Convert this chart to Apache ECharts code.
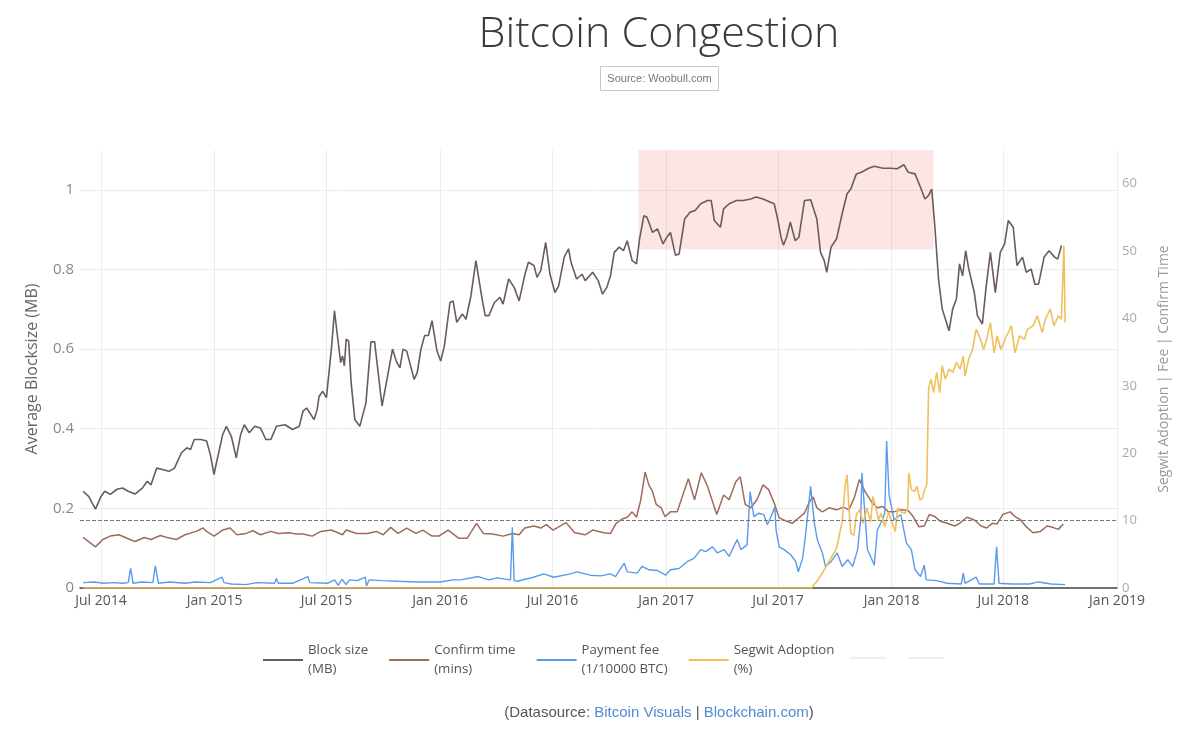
<!DOCTYPE html>
<html><head><meta charset="utf-8">
<script src="https://cdn.jsdelivr.net/npm/echarts@6/dist/echarts.min.js"></script>
<style>html,body{margin:0;padding:0;background:#fff}#chart{width:1200px;height:737px}</style>
</head><body><div id="chart"></div>
<script>
// Smoothed block size (MB), left axis
const blockSize = [['2014-06-02',0.243],['2014-06-11',0.230],['2014-06-22',0.198],['2014-07-01',0.230],['2014-07-07',0.243],['2014-07-16',0.235],['2014-07-27',0.248],['2014-08-05',0.251],['2014-08-14',0.243],['2014-08-25',0.236],['2014-09-06',0.251],['2014-09-14',0.268],['2014-09-20',0.259],['2014-09-29',0.301],['2014-10-10',0.297],['2014-10-19',0.293],['2014-10-28',0.301],['2014-11-08',0.339],['2014-11-17',0.352],['2014-11-23',0.348],['2014-11-29',0.373],['2014-12-10',0.373],['2014-12-19',0.369],['2014-12-25',0.335],['2014-12-31',0.285],['2015-01-05',0.322],['2015-01-14',0.385],['2015-01-20',0.406],['2015-01-28',0.381],['2015-02-05',0.327],['2015-02-12',0.385],['2015-02-18',0.410],['2015-02-26',0.390],['2015-03-07',0.406],['2015-03-16',0.402],['2015-03-25',0.373],['2015-04-02',0.373],['2015-04-11',0.406],['2015-04-25',0.410],['2015-05-07',0.398],['2015-05-18',0.406],['2015-05-24',0.444],['2015-05-30',0.452],['2015-06-11',0.423],['2015-06-16',0.448],['2015-06-19',0.481],['2015-06-25',0.494],['2015-07-01',0.478],['2015-07-09',0.600],['2015-07-14',0.696],['2015-07-24',0.566],['2015-07-27',0.583],['2015-07-30',0.558],['2015-08-02',0.625],['2015-08-06',0.620],['2015-08-10',0.515],['2015-08-16',0.423],['2015-08-24',0.406],['2015-09-03',0.465],['2015-09-11',0.618],['2015-09-17',0.618],['2015-09-29',0.457],['2015-10-07',0.524],['2015-10-16',0.600],['2015-10-22',0.570],['2015-10-28',0.553],['2015-11-02',0.600],['2015-11-08',0.595],['2015-11-20',0.524],['2015-11-25',0.541],['2015-12-01',0.600],['2015-12-07',0.634],['2015-12-13',0.634],['2015-12-19',0.671],['2015-12-27',0.595],['2016-01-02',0.570],['2016-01-08',0.608],['2016-01-17',0.717],['2016-01-22',0.721],['2016-01-28',0.667],['2016-02-06',0.688],['2016-02-12',0.675],['2016-02-20',0.734],['2016-02-28',0.822],['2016-03-09',0.726],['2016-03-14',0.684],['2016-03-20',0.684],['2016-03-29',0.717],['2016-04-07',0.730],['2016-04-12',0.713],['2016-04-21',0.776],['2016-04-30',0.755],['2016-05-08',0.721],['2016-05-17',0.785],['2016-05-23',0.818],['2016-06-01',0.810],['2016-06-06',0.780],['2016-06-12',0.797],['2016-06-20',0.868],['2016-06-27',0.788],['2016-07-05',0.742],['2016-07-11',0.759],['2016-07-20',0.831],['2016-07-27',0.852],['2016-07-31',0.818],['2016-08-09',0.776],['2016-08-18',0.788],['2016-08-23',0.772],['2016-09-04',0.793],['2016-09-13',0.772],['2016-09-20',0.738],['2016-09-27',0.755],['2016-10-03',0.785],['2016-10-09',0.843],['2016-10-17',0.856],['2016-10-24',0.847],['2016-10-30',0.872],['2016-11-07',0.822],['2016-11-14',0.814],['2016-11-19',0.877],['2016-11-26',0.935],['2016-12-01',0.931],['2016-12-10',0.893],['2016-12-18',0.902],['2016-12-27',0.864],['2017-01-02',0.881],['2017-01-08',0.893],['2017-01-16',0.836],['2017-01-22',0.839],['2017-01-31',0.927],['2017-02-09',0.944],['2017-02-17',0.948],['2017-02-26',0.965],['2017-03-09',0.973],['2017-03-15',0.973],['2017-03-20',0.923],['2017-03-30',0.906],['2017-04-04',0.952],['2017-04-13',0.965],['2017-04-25',0.973],['2017-05-06',0.973],['2017-05-18',0.977],['2017-05-27',0.982],['2017-06-07',0.977],['2017-06-19',0.969],['2017-06-25',0.965],['2017-06-30',0.931],['2017-07-06',0.881],['2017-07-10',0.861],['2017-07-15',0.881],['2017-07-21',0.919],['2017-07-29',0.872],['2017-08-04',0.881],['2017-08-13',0.973],['2017-08-23',0.975],['2017-09-02',0.927],['2017-09-08',0.843],['2017-09-14',0.822],['2017-09-18',0.793],['2017-09-25',0.856],['2017-10-04',0.877],['2017-10-13',0.940],['2017-10-21',0.990],['2017-10-27',1.002],['2017-11-05',1.040],['2017-11-13',1.044],['2017-11-25',1.054],['2017-12-04',1.059],['2017-12-18',1.054],['2017-12-30',1.054],['2018-01-10',1.053],['2018-01-21',1.063],['2018-01-28',1.044],['2018-02-08',1.040],['2018-02-17',1.006],['2018-02-24',0.977],['2018-03-02',0.986],['2018-03-07',1.002],['2018-03-12',0.910],['2018-03-18',0.776],['2018-03-24',0.701],['2018-03-29',0.676],['2018-04-04',0.646],['2018-04-10',0.701],['2018-04-16',0.726],['2018-04-21',0.814],['2018-04-26',0.784],['2018-05-01',0.847],['2018-05-06',0.801],['2018-05-15',0.742],['2018-05-20',0.684],['2018-05-28',0.663],['2018-06-03',0.755],['2018-06-10',0.843],['2018-06-18',0.742],['2018-06-26',0.843],['2018-07-03',0.864],['2018-07-09',0.923],['2018-07-17',0.906],['2018-07-23',0.810],['2018-08-01',0.831],['2018-08-07',0.793],['2018-08-15',0.801],['2018-08-21',0.763],['2018-08-27',0.763],['2018-09-05',0.831],['2018-09-13',0.847],['2018-09-22',0.831],['2018-09-27',0.826],['2018-10-03',0.860]];

// Confirm time (mins), right axis
const confirmTime = [['2014-06-02',7.5],['2014-06-22',6.1],['2014-07-04',7.2],['2014-07-16',7.7],['2014-07-30',7.9],['2014-08-14',7.3],['2014-08-25',6.9],['2014-09-09',7.5],['2014-09-20',7.2],['2014-10-05',7.8],['2014-10-16',7.5],['2014-10-31',7.2],['2014-11-14',7.9],['2014-12-02',8.4],['2014-12-13',8.9],['2014-12-19',8.4],['2014-12-31',7.7],['2015-01-14',8.6],['2015-01-26',8.9],['2015-02-06',7.9],['2015-02-21',8.1],['2015-03-04',8.5],['2015-03-16',7.9],['2015-04-02',8.4],['2015-04-14',8.1],['2015-05-01',8.2],['2015-05-13',8.0],['2015-05-24',8.0],['2015-06-08',7.7],['2015-06-22',8.4],['2015-07-09',8.6],['2015-07-27',7.9],['2015-08-02',8.6],['2015-08-19',8.1],['2015-09-05',8.1],['2015-09-20',8.4],['2015-10-01',7.9],['2015-10-13',9.0],['2015-10-25',8.1],['2015-11-08',8.9],['2015-11-23',8.1],['2015-12-04',8.6],['2015-12-19',7.7],['2015-12-30',7.7],['2016-01-14',8.6],['2016-01-31',7.4],['2016-02-14',7.4],['2016-02-29',9.6],['2016-03-11',8.1],['2016-03-26',8.0],['2016-04-12',7.7],['2016-04-27',8.1],['2016-05-08',7.9],['2016-05-17',8.9],['2016-06-01',9.2],['2016-06-12',8.9],['2016-06-21',9.4],['2016-07-02',8.6],['2016-07-23',9.7],['2016-08-06',8.2],['2016-08-23',7.9],['2016-09-04',8.6],['2016-09-22',8.2],['2016-10-03',8.1],['2016-10-12',9.6],['2016-10-21',10.2],['2016-10-30',10.5],['2016-11-07',11.3],['2016-11-14',10.5],['2016-11-21',13.1],['2016-11-28',17.2],['2016-12-04',15.3],['2016-12-10',14.3],['2016-12-16',12.4],['2016-12-24',11.9],['2016-12-30',10.6],['2017-01-08',11.3],['2017-01-19',11.3],['2017-01-28',13.8],['2017-02-06',16.2],['2017-02-16',13.1],['2017-02-27',17.1],['2017-03-09',15.1],['2017-03-24',10.9],['2017-04-04',13.8],['2017-04-13',13.1],['2017-04-24',15.8],['2017-05-01',16.5],['2017-05-09',12.4],['2017-05-18',11.9],['2017-05-28',13.1],['2017-06-07',15.3],['2017-06-16',14.6],['2017-06-25',12.6],['2017-07-03',10.4],['2017-07-15',9.9],['2017-07-24',9.6],['2017-08-01',10.2],['2017-08-13',11.1],['2017-08-21',12.8],['2017-08-27',13.5],['2017-09-02',11.9],['2017-09-11',11.3],['2017-09-22',11.9],['2017-10-04',11.6],['2017-10-15',12.0],['2017-10-24',11.6],['2017-11-02',13.5],['2017-11-10',16.1],['2017-11-19',14.3],['2017-12-01',12.6],['2017-12-09',11.9],['2017-12-18',12.1],['2017-12-27',11.3],['2018-01-05',11.3],['2018-01-16',11.6],['2018-01-28',11.5],['2018-02-05',10.6],['2018-02-14',9.1],['2018-02-23',9.2],['2018-03-03',10.9],['2018-03-12',10.6],['2018-03-21',9.9],['2018-04-01',9.6],['2018-04-13',9.2],['2018-04-21',9.6],['2018-05-03',10.5],['2018-05-15',10.1],['2018-05-26',9.2],['2018-06-04',8.9],['2018-06-13',9.6],['2018-06-21',9.5],['2018-06-30',10.9],['2018-07-12',11.3],['2018-07-20',10.6],['2018-07-29',10.1],['2018-08-07',9.1],['2018-08-18',8.2],['2018-08-30',8.4],['2018-09-10',9.2],['2018-09-19',9.0],['2018-09-28',8.7],['2018-10-06',9.5]];

// Payment fee (1/10000 BTC), right axis
const paymentFee = [['2014-06-02',0.8],['2014-06-20',0.9],['2014-07-05',0.7],['2014-07-21',0.8],['2014-08-05',0.7],['2014-08-14',0.8],['2014-08-18',2.9],['2014-08-22',0.7],['2014-09-05',0.9],['2014-09-23',0.8],['2014-09-27',3.3],['2014-10-02',0.7],['2014-10-20',0.9],['2014-11-14',0.7],['2014-12-01',0.9],['2014-12-25',0.8],['2015-01-13',1.6],['2015-01-16',0.8],['2015-01-28',0.6],['2015-02-21',0.5],['2015-03-10',0.8],['2015-04-08',0.7],['2015-04-11',1.4],['2015-04-14',0.7],['2015-05-07',0.7],['2015-06-01',1.7],['2015-06-04',0.8],['2015-07-03',0.7],['2015-07-14',1.2],['2015-07-20',0.4],['2015-07-26',1.3],['2015-08-02',0.5],['2015-08-07',1.2],['2015-08-20',1.1],['2015-09-02',1.6],['2015-09-04',0.3],['2015-09-08',1.2],['2015-09-29',1.1],['2015-10-25',1.0],['2015-11-25',0.9],['2016-01-01',0.9],['2016-01-22',1.2],['2016-02-03',1.2],['2016-03-03',1.7],['2016-03-20',1.2],['2016-04-02',1.5],['2016-04-24',1.2],['2016-04-27',9.0],['2016-04-30',1.1],['2016-05-05',1.0],['2016-05-31',1.6],['2016-06-17',2.1],['2016-07-03',1.6],['2016-07-30',2.1],['2016-08-10',2.4],['2016-08-31',1.9],['2016-09-17',1.8],['2016-10-03',2.1],['2016-10-11',1.7],['2016-10-25',3.7],['2016-10-30',2.4],['2016-11-15',2.2],['2016-11-23',3.2],['2016-12-04',2.7],['2016-12-18',2.6],['2016-12-31',1.9],['2017-01-08',2.7],['2017-01-22',2.9],['2017-02-04',3.9],['2017-02-15',4.4],['2017-02-26',5.7],['2017-03-06',5.4],['2017-03-17',6.1],['2017-03-25',5.2],['2017-04-05',5.7],['2017-04-13',4.7],['2017-04-26',7.2],['2017-05-02',5.7],['2017-05-12',6.4],['2017-05-17',14.3],['2017-05-23',10.6],['2017-05-31',11.1],['2017-06-08',10.9],['2017-06-14',9.4],['2017-06-22',11.1],['2017-06-26',12.0],['2017-06-28',8.6],['2017-07-03',6.1],['2017-07-11',5.7],['2017-07-22',4.9],['2017-07-30',3.9],['2017-08-03',2.4],['2017-08-10',4.4],['2017-08-15',8.1],['2017-08-23',15.1],['2017-08-29',9.6],['2017-09-03',7.1],['2017-09-11',5.2],['2017-09-16',3.2],['2017-09-25',3.9],['2017-10-05',5.2],['2017-10-13',3.2],['2017-10-22',4.2],['2017-10-30',3.2],['2017-11-07',5.7],['2017-11-12',10.1],['2017-11-14',17.1],['2017-11-23',5.7],['2017-12-04',3.4],['2017-12-09',8.6],['2017-12-17',10.1],['2017-12-21',11.1],['2017-12-24',21.8],['2017-12-28',13.8],['2018-01-05',10.1],['2018-01-16',10.9],['2018-01-25',6.7],['2018-02-02',5.7],['2018-02-08',2.7],['2018-02-17',1.7],['2018-02-23',3.4],['2018-02-26',1.2],['2018-03-15',1.1],['2018-04-01',0.7],['2018-04-24',0.6],['2018-04-27',2.2],['2018-04-30',0.7],['2018-05-18',1.6],['2018-05-23',0.6],['2018-06-16',0.6],['2018-06-20',6.1],['2018-06-24',0.7],['2018-07-14',0.6],['2018-08-12',0.6],['2018-08-27',0.9],['2018-09-16',0.6],['2018-10-09',0.5]];

// Segwit adoption (%), right axis
const segwitAdoption = [['2014-06-02',0],['2017-08-24',0],['2017-09-02',1.0],['2017-09-11',2.2],['2017-09-22',4.0],['2017-10-04',5.9],['2017-10-13',9.9],['2017-10-18',15.3],['2017-10-21',16.8],['2017-10-24',11.8],['2017-10-27',8.1],['2017-11-01',7.8],['2017-11-05',10.9],['2017-11-10',11.6],['2017-11-16',9.6],['2017-11-22',11.9],['2017-11-28',9.8],['2017-12-02',13.6],['2017-12-06',12.1],['2017-12-11',10.1],['2017-12-15',11.1],['2017-12-21',9.1],['2017-12-27',11.3],['2018-01-02',9.6],['2018-01-07',8.4],['2018-01-11',11.9],['2018-01-16',11.3],['2018-01-22',11.1],['2018-01-27',11.6],['2018-01-29',17.1],['2018-02-02',14.6],['2018-02-07',14.3],['2018-02-11',15.1],['2018-02-16',13.1],['2018-02-20',13.3],['2018-02-24',14.8],['2018-02-27',15.3],['2018-03-02',29.7],['2018-03-06',31.0],['2018-03-10',29.0],['2018-03-15',32.0],['2018-03-20',29.0],['2018-03-24',33.0],['2018-03-29',31.0],['2018-04-04',32.5],['2018-04-10',32.0],['2018-04-16',33.5],['2018-04-22',32.5],['2018-04-27',34.4],['2018-04-30',31.5],['2018-05-06',34.0],['2018-05-12',35.4],['2018-05-18',38.4],['2018-05-23',37.4],['2018-05-30',35.4],['2018-06-04',36.9],['2018-06-10',39.4],['2018-06-16',34.9],['2018-06-21',37.4],['2018-06-27',35.4],['2018-07-06',37.4],['2018-07-14',38.9],['2018-07-20',34.9],['2018-07-27',37.4],['2018-08-04',36.9],['2018-08-09',38.4],['2018-08-18',38.9],['2018-08-25',40.4],['2018-09-02',37.9],['2018-09-07',39.9],['2018-09-15',41.4],['2018-09-21',38.9],['2018-09-28',40.4],['2018-10-03',39.9],['2018-10-07',50.8],['2018-10-09',39.4]];

const seriesNames = ['Block size\n(MB)', 'Confirm time\n(mins)', 'Payment fee\n(1/10000 BTC)', 'Segwit Adoption\n(%)', 'Block size (daily)', 'Confirm time (daily)'];
const congestionPeriod = ['2016-11-17', '2018-03-10'];
const congestionBlockSize = [0.85, 1.1];
const confirmTarget = 10;
const monthNames = ['Jan','Feb','Mar','Apr','May','Jun','Jul','Aug','Sep','Oct','Nov','Dec'];

const chart = echarts.init(document.getElementById('chart'), null, {renderer: 'canvas'});
const legendText = {fontSize: 13.3, color: '#555', lineHeight: 19, fontFamily: 'Open Sans'};
const option = {
  animation: false,
  backgroundColor: '#fff',
  textStyle: {fontFamily: 'Open Sans'},
  graphic: [
    {type: 'text', x: 659, y: 35, style: {text: 'Bitcoin Congestion', font: '300 43px "Open Sans"', fill: '#3a3a3a', align: 'center', verticalAlign: 'middle'}},
    {type: 'rect', shape: {x: 600.5, y: 66.5, width: 118, height: 24}, style: {fill: '#fff', stroke: '#c8c8c8', lineWidth: 1}},
    {type: 'text', x: 659.5, y: 78.5, style: {text: 'Source: Woobull.com', font: '11px "Liberation Sans"', fill: '#777', align: 'center', verticalAlign: 'middle'}},
    {type: 'text', x: 659, y: 713, style: {
      text: '{g|(Datasource: }{b|Bitcoin Visuals}{g| | }{b|Blockchain.com}{g|)}',
      font: '15px "Liberation Sans"', align: 'center', verticalAlign: 'middle',
      rich: {g: {fill: '#555', color: '#555', font: '15px "Liberation Sans"'}, b: {fill: '#4f8bd0', color: '#4f8bd0', font: '15px "Liberation Sans"'}}
    }}
  ],
  grid: {left: 80, right: 83, top: 150, bottom: 149},
  legend: [
    {left: 258, top: 636, itemWidth: 40, itemHeight: 2, itemGap: 21, icon: 'rect',
      data: seriesNames.slice(0, 4), textStyle: legendText},
    {left: 845, top: 652, itemWidth: 36, itemHeight: 2, itemGap: 17, icon: 'rect',
      data: seriesNames.slice(4), formatter: function () { return ''; }, textStyle: legendText}
  ],
  xAxis: {
    type: 'time', min: '2014-05-28', max: '2019-01-01', splitNumber: 9,
    axisLine: {lineStyle: {color: '#444', width: 1.5}},
    axisTick: {show: false},
    axisLabel: {color: '#555', fontSize: 14, margin: 6, showMinLabel: false, showMaxLabel: true, hideOverlap: false,
      formatter: function (v) { const d = new Date(v); return monthNames[d.getMonth()] + ' ' + d.getFullYear(); }},
    splitLine: {show: true, showMinLine: false, lineStyle: {color: '#ececec', width: 1}}
  },
  yAxis: [
    {type: 'value', min: 0, max: 1.1, interval: 0.2, position: 'left',
      name: 'Average Blocksize (MB)', nameLocation: 'middle', nameGap: 40,
      nameTextStyle: {fontSize: 16, color: '#666', fontFamily: 'Open Sans'},
      axisLine: {show: false}, axisTick: {show: false},
      axisLabel: {color: '#888', fontSize: 15, margin: 6, showMaxLabel: false},
      splitLine: {show: true, showMaxLine: false, lineStyle: {color: '#ececec'}}},
    {type: 'value', min: 0, max: 65, interval: 10, position: 'right',
      name: 'Segwit Adoption | Fee | Confirm Time', nameLocation: 'middle', nameGap: 40,
      nameTextStyle: {fontSize: 14, color: '#999', fontFamily: 'Open Sans'},
      axisLine: {show: false}, axisTick: {show: false},
      axisLabel: {color: '#aaa', fontSize: 13, margin: 5, showMaxLabel: false},
      splitLine: {show: false}}
  ],
  series: [
    {name: seriesNames[4], type: 'line', yAxisIndex: 0, data: [], symbol: 'none', lineStyle: {color: '#ededed', width: 1}, itemStyle: {color: '#efefef'}, z: 1},
    {name: seriesNames[5], type: 'line', yAxisIndex: 1, data: [], symbol: 'none', lineStyle: {color: '#ededed', width: 1}, itemStyle: {color: '#efefef'}, z: 1},
    {name: seriesNames[0], type: 'line', yAxisIndex: 0, data: blockSize, symbol: 'none',
      lineStyle: {color: '#6b5b5b', width: 1.6}, itemStyle: {color: '#6b5b5b'}, z: 3,
      markArea: {silent: true, itemStyle: {color: 'rgba(240,130,125,0.2)'},
        data: [[{xAxis: congestionPeriod[0], yAxis: congestionBlockSize[0]}, {xAxis: congestionPeriod[1], yAxis: congestionBlockSize[1]}]]}},
    {name: seriesNames[1], type: 'line', yAxisIndex: 1, data: confirmTime, symbol: 'none',
      lineStyle: {color: '#a06a5d', width: 1.5}, itemStyle: {color: '#a06a5d'}, z: 3,
      markLine: {silent: true, symbol: 'none', label: {show: false},
        lineStyle: {type: 'dashed', color: '#777', width: 1}, data: [{yAxis: confirmTarget}]}},
    {name: seriesNames[2], type: 'line', yAxisIndex: 1, data: paymentFee, symbol: 'none',
      lineStyle: {color: '#5a9aec', width: 1.4}, itemStyle: {color: '#5a9aec'}, z: 3},
    {name: seriesNames[3], type: 'line', yAxisIndex: 1, data: segwitAdoption, symbol: 'none',
      lineStyle: {color: '#efc05c', width: 1.6}, itemStyle: {color: '#efc05c'}, z: 4}
  ]
};
chart.setOption(option);
</script>
</body></html>
